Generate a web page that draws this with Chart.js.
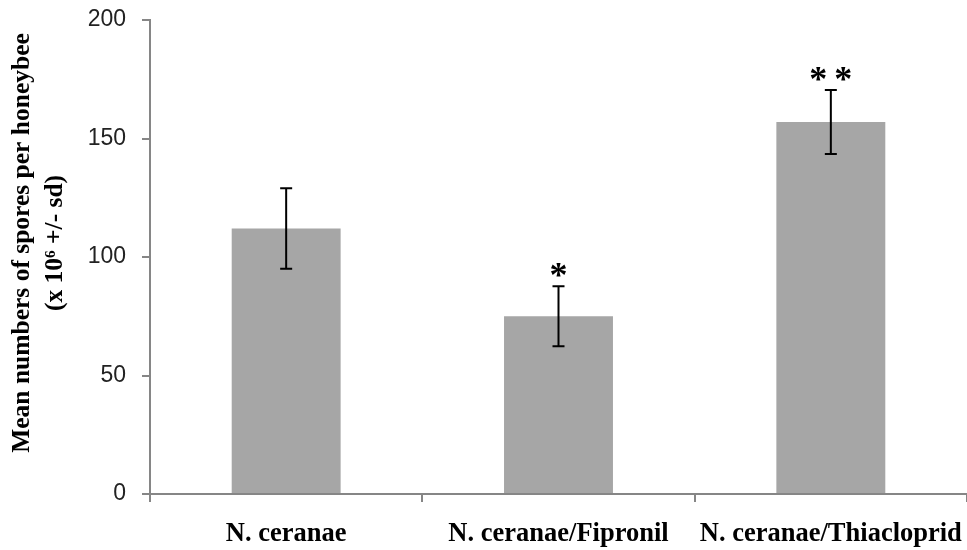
<!DOCTYPE html>
<html>
<head>
<meta charset="utf-8">
<script src="https://cdn.jsdelivr.net/npm/chart.js@4.4.0/dist/chart.umd.min.js"></script>
<style>
  html, body { margin: 0; padding: 0; background: #fff; }
  #wrap { width: 967px; height: 550px; }
</style>
</head>
<body>
<div id="wrap"><canvas id="myChart" width="967" height="550"></canvas></div>
<script>
'use strict';
// data
const categories = ['N. ceranae', 'N. ceranae/Fipronil', 'N. ceranae/Thiacloprid'];
const meanSpores = [112, 75, 157];
const sdSpores = [17, 12.7, 13.5];
const signifMarks = ['', '*', '**'];
const yTicks = [0, 50, 100, 150, 200];
const yTitle = ['Mean numbers of spores per honeybee', '(x 10\u2076 +/- sd)'];

const errorBarPlugin = {
	id: 'errorBars',
	afterDatasetsDraw(chart) {
		const ctx = chart.ctx;
		const yScale = chart.scales.y;
		const meta = chart.getDatasetMeta(0);
		ctx.save();
		meta.data.forEach((bar, i) => {
			const x = bar.x;
			const yHi = yScale.getPixelForValue(meanSpores[i] + sdSpores[i]);
			const yLo = yScale.getPixelForValue(meanSpores[i] - sdSpores[i]);
			ctx.strokeStyle = '#000';
			ctx.lineWidth = 2;
			ctx.beginPath();
			ctx.moveTo(x, yHi); ctx.lineTo(x, yLo);
			ctx.moveTo(x - 6, yHi); ctx.lineTo(x + 6, yHi);
			ctx.moveTo(x - 6, yLo); ctx.lineTo(x + 6, yLo);
			ctx.stroke();
			// significance stars, one glyph at a time so they keep their gap
			const stars = signifMarks[i].split('');
			ctx.fillStyle = '#000';
			ctx.font = 'bold 36px "Liberation Serif"';
			ctx.textAlign = 'center';
			ctx.textBaseline = 'alphabetic';
			stars.forEach((s, k) => {
				const dx = (k - (stars.length - 1) / 2) * 25;
				ctx.fillText(s, x + dx, yHi + 1);
			});
		});
		ctx.restore();
	}
};

// rotated two-line y title, centred a bit above the plot middle like the original
const yTitlePlugin = {
	id: 'yTitle',
	afterDraw(chart) {
		const ctx = chart.ctx;
		const area = chart.chartArea;
		ctx.save();
		ctx.translate(0, (area.top + area.bottom) / 2 - 14);
		ctx.rotate(-Math.PI / 2);
		ctx.fillStyle = '#000';
		ctx.font = 'bold 25.5px "Liberation Serif"';
		ctx.textAlign = 'center';
		ctx.textBaseline = 'middle';
		ctx.fillText(yTitle[0], 0, 22);
		ctx.fillText(yTitle[1], 0, 55);
		ctx.restore();
	}
};

const config = {
	type: 'bar',
	data: {
		labels: categories,
		datasets: [{
			data: meanSpores,
			backgroundColor: '#a6a6a6',
			borderWidth: 0,
			barPercentage: 0.4,
			categoryPercentage: 1,
		}],
	},
	options: {
		responsive: false,
		animation: false,
		layout: { padding: { top: 20, right: 0, left: 0, bottom: 0 } },
		plugins: {
			legend: { display: false },
			tooltip: { enabled: false },
		},
		scales: {
			x: {
				offset: true,
				afterFit: (s) => { s.height = 56; s.paddingLeft = 0; s.paddingRight = 0; },
				border: { color: '#868686', width: 2 },
				grid: {
					offset: true,
					drawOnChartArea: false,
					tickLength: 8,
					color: '#868686',
					lineWidth: 2,
				},
				ticks: {
					color: '#000',
					padding: 16,
					font: { family: '"Liberation Serif"', size: 26.5, weight: 'bold' },
				},
			},
			y: {
				min: 0,
				max: 200,
				afterFit: (s) => { s.width = 150; s.paddingTop = 0; s.paddingBottom = 0; },
				afterBuildTicks: (s) => { s.ticks = yTicks.map((v) => ({ value: v })); },
				border: { color: '#868686', width: 2 },
				grid: {
					drawOnChartArea: false,
					tickLength: 8,
					color: '#868686',
					lineWidth: 2,
				},
				ticks: {
					color: '#222',
					padding: 16,
					font: { family: '"Liberation Sans"', size: 23 },
				},
			},
		},
	},
	plugins: [errorBarPlugin, yTitlePlugin],
};

const myChart = new Chart(document.getElementById('myChart'), config);
</script>
</body>
</html>
